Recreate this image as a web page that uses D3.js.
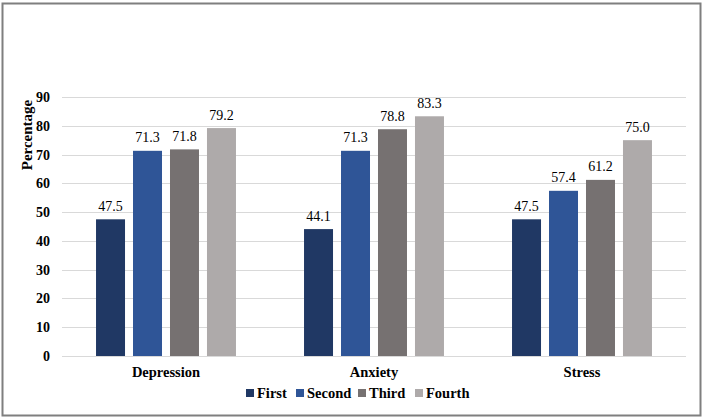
<!DOCTYPE html>
<html>
<head>
<meta charset="utf-8">
<script src="https://cdn.jsdelivr.net/npm/d3@7"></script>
<style>
  html, body { margin: 0; padding: 0; background: #fff; }
  svg text { font-family: "Liberation Serif", "Times New Roman", Times, "DejaVu Serif", serif; }
</style>
</head>
<body>
<div id="chart"></div>
<script>
const categories = ["Depression", "Anxiety", "Stress"];
const seriesNames = ["First", "Second", "Third", "Fourth"];
const seriesColors = ["#203864", "#2f5597", "#767171", "#aeaaaa"];
const firstValues = [47.5, 44.1, 47.5];
const secondValues = [71.3, 71.3, 57.4];
const thirdValues = [71.8, 78.8, 61.2];
const fourthValues = [79.2, 83.3, 75.0];
const yTicks = [0, 10, 20, 30, 40, 50, 60, 70, 80, 90];

const allValues = [firstValues, secondValues, thirdValues, fourthValues];

const W = 704, H = 420;
const plot = { left: 62, right: 686, top: 97, bottom: 356 };
const serif = "'Liberation Serif', 'Times New Roman', serif";

const svg = d3.select("#chart").append("svg")
    .attr("width", W)
    .attr("height", H);

// frame
svg.append("rect")
    .attr("x", 2.5).attr("y", 3.5)
    .attr("width", 698).attr("height", 412)
    .attr("fill", "#fff")
    .attr("stroke", "#7f7f7f")
    .attr("stroke-width", 2);

const x0 = d3.scaleBand().domain(categories).range([plot.left, plot.right]);
const x1 = d3.scaleBand().domain(seriesNames)
    .range([0, x0.bandwidth()])
    .paddingInner(0.216)
    .paddingOuter(0.92);
const y = d3.scaleLinear().domain([0, 90]).range([plot.bottom, plot.top]);

// gridlines
svg.append("g")
    .selectAll("line")
    .data(yTicks)
    .join("line")
    .attr("x1", plot.left).attr("x2", plot.right)
    .attr("y1", d => Math.round(y(d)) + 0.5)
    .attr("y2", d => Math.round(y(d)) + 0.5)
    .attr("stroke", "#d9d9d9")
    .attr("stroke-width", 1);

// y tick labels
svg.append("g")
    .selectAll("text")
    .data(yTicks)
    .join("text")
    .attr("x", 50)
    .attr("y", d => y(d) + 5)
    .attr("text-anchor", "end")
    .attr("font-family", serif)
    .attr("font-size", "14px")
    .attr("font-weight", "bold")
    .attr("fill", "#000")
    .text(d => d);

// y axis title
svg.append("text")
    .attr("transform", "translate(32,135) rotate(-90)")
    .attr("text-anchor", "middle")
    .attr("font-family", serif)
    .attr("font-size", "15px")
    .attr("font-weight", "bold")
    .text("Percentage");

// bars
const rows = categories.map((c, i) => ({
    category: c,
    values: seriesNames.map((s, j) => ({ series: s, value: allValues[j][i], color: seriesColors[j] }))
}));

const groups = svg.append("g")
    .selectAll("g")
    .data(rows)
    .join("g")
    .attr("transform", d => `translate(${x0(d.category)},0)`);

groups.selectAll("rect")
    .data(d => d.values)
    .join("rect")
    .attr("x", d => x1(d.series))
    .attr("y", d => y(d.value))
    .attr("width", x1.bandwidth())
    .attr("height", d => y(0) - y(d.value))
    .attr("fill", d => d.color);

groups.selectAll("text")
    .data(d => d.values)
    .join("text")
    .attr("x", d => x1(d.series) + x1.bandwidth() / 2)
    .attr("y", d => y(d.value) - 8.5)
    .attr("text-anchor", "middle")
    .attr("font-family", serif)
    .attr("font-size", "14px")
    .attr("fill", "#000")
    .text(d => d.value.toFixed(1));

// category labels
svg.append("g")
    .selectAll("text")
    .data(categories)
    .join("text")
    .attr("x", d => x0(d) + x0.bandwidth() / 2)
    .attr("y", 377)
    .attr("text-anchor", "middle")
    .attr("font-family", serif)
    .attr("font-size", "14.5px")
    .attr("font-weight", "bold")
    .text(d => d);

// legend
const legendX = [246, 296, 358, 415];
const legend = svg.append("g")
    .selectAll("g")
    .data(seriesNames)
    .join("g")
    .attr("transform", (d, i) => `translate(${legendX[i]},393)`);

legend.append("rect")
    .attr("x", 0).attr("y", -4)
    .attr("width", 8).attr("height", 8)
    .attr("fill", (d, i) => seriesColors[i]);

legend.append("text")
    .attr("x", 11)
    .attr("y", 5)
    .attr("font-family", serif)
    .attr("font-size", "14.5px")
    .attr("font-weight", "bold")
    .text(d => d);
</script>
</body>
</html>
